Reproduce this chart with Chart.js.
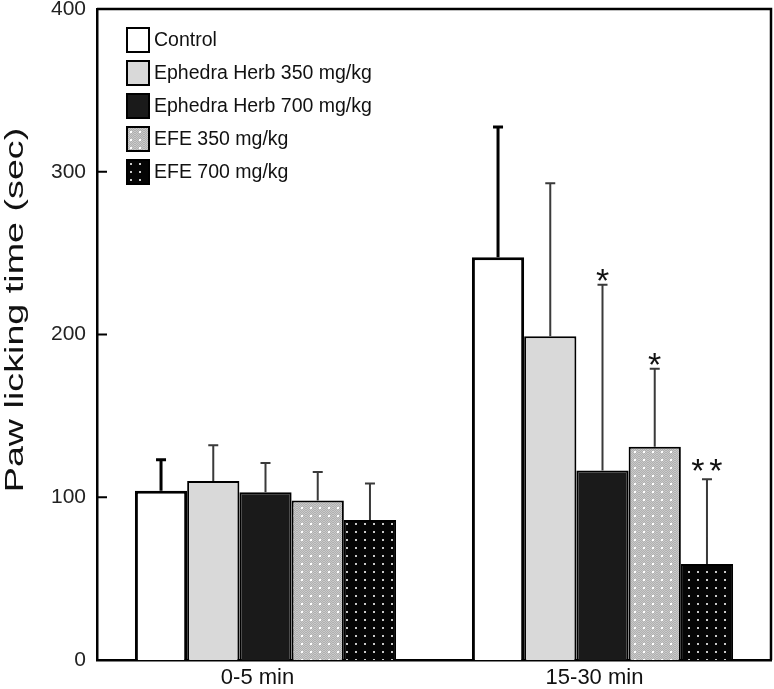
<!DOCTYPE html>
<html>
<head>
<meta charset="utf-8">
<script src="https://cdn.jsdelivr.net/npm/chart.js@4/dist/chart.umd.min.js"></script>
<style>
  body { margin: 0; background: #fff; }
  #wrap { width: 774px; height: 689px; position: relative; }
</style>
</head>
<body>
<div id="wrap"><canvas id="pawChart"></canvas></div>
<script>
// Data
const categories = ['0-5 min', '15-30 min'];
const seriesNames = ['Control', 'Ephedra Herb 350 mg/kg', 'Ephedra Herb 700 mg/kg', 'EFE 350 mg/kg', 'EFE 700 mg/kg'];
const control = [104, 247.5];
const herb350 = [110, 199];
const herb700 = [103, 116.5];
const efe350 = [98, 131];
const efe700 = [86, 59];
// SD (upper error bars)
const controlErr = [19, 80];
const herb350Err = [22, 94];
const herb700Err = [18, 114];
const efe350Err = [17.5, 48];
const efe700Err = [22.5, 52];
// significance marks per series, per category
const marks = [['', ''], ['', ''], ['', '*'], ['', '*'], ['', '**']];
const yTicks = [0, 100, 200, 300, 400];

const FONT = '"Liberation Sans", Arial, sans-serif';

// dotted fills
function dotPattern(bg, dot, checker) {
    const c = document.createElement('canvas');
    c.width = 9; c.height = 8;
    const g = c.getContext('2d');
    g.fillStyle = bg;
    g.fillRect(0, 0, 9, 8);
    if (checker) {
        g.fillStyle = checker;
        for (let y = 0; y < 8; y++) {
            for (let x = (y % 2); x < 9; x += 2) g.fillRect(x, y, 1, 1);
        }
    }
    g.fillStyle = dot;
    g.fillRect(4, 3, 2, 2);
    return g.createPattern(c, 'repeat');
}

const fills = [
    '#ffffff',
    '#d9d9d9',
    '#1a1a1a',
    dotPattern('#c9c9c9', '#ffffff', '#b0b0b0'),
    dotPattern('#050505', '#c8c8c8', null)
];
const values = [control, herb350, herb700, efe350, efe700];
const errors = [controlErr, herb350Err, herb700Err, efe350Err, efe700Err];

const decorations = {
    id: 'decorations',
    afterDatasetsDraw(chart) {
        const ctx = chart.ctx;
        const area = chart.chartArea;
        const yScale = chart.scales.y;

        // error bars + significance marks
        chart.data.datasets.forEach((ds, i) => {
            const meta = chart.getDatasetMeta(i);
            meta.data.forEach((bar, j) => {
                const top = yScale.getPixelForValue(values[i][j] + errors[i][j]);
                ctx.save();
                ctx.strokeStyle = i === 0 ? '#000' : '#3a3a3a';
                ctx.lineWidth = i === 0 ? 3 : 2;
                ctx.beginPath();
                ctx.moveTo(bar.x, bar.y);
                ctx.lineTo(bar.x, top);
                ctx.moveTo(bar.x - 5, top);
                ctx.lineTo(bar.x + 5, top);
                ctx.stroke();
                const m = marks[i][j];
                if (m) {
                    ctx.fillStyle = '#111';
                    ctx.font = '34px ' + FONT;
                    ctx.textAlign = 'center';
                    ctx.textBaseline = 'alphabetic';
                    if (m.length > 1) {
                        ctx.fillText('*', bar.x - 9, top - 17 + 20);
                        ctx.fillText('*', bar.x + 9, top - 17 + 20);
                    } else {
                        ctx.fillText(m, bar.x, top - 13 + 20);
                    }
                }
                ctx.restore();
            });
        });

        // frame on top and right, inward ticks on y
        ctx.save();
        ctx.strokeStyle = '#000';
        ctx.lineWidth = 2.5;
        ctx.beginPath();
        ctx.moveTo(area.left, area.top);
        ctx.lineTo(area.right, area.top);
        ctx.lineTo(area.right, area.bottom);
        ctx.stroke();
        ctx.lineWidth = 2;
        ctx.beginPath();
        yTicks.forEach(v => {
            const y = yScale.getPixelForValue(v);
            ctx.moveTo(area.left, y);
            ctx.lineTo(area.left + 10, y);
        });
        ctx.stroke();
        ctx.restore();

        // legend
        ctx.save();
        ctx.font = '19.5px ' + FONT;
        ctx.textBaseline = 'middle';
        ctx.textAlign = 'left';
        seriesNames.forEach((name, i) => {
            const cy = 40 + i * 33;
            ctx.fillStyle = fills[i];
            ctx.fillRect(127, cy - 12, 22, 24);
            ctx.strokeStyle = '#000';
            ctx.lineWidth = 2;
            ctx.strokeRect(127, cy - 12, 22, 24);
            ctx.fillStyle = '#111';
            ctx.fillText(name, 154, cy + 1);
        });
        ctx.restore();

        // y axis title (stretched like the original)
        ctx.save();
        ctx.translate(16, 310);
        ctx.rotate(-Math.PI / 2);
        ctx.scale(1.45, 1);
        ctx.font = '26px ' + FONT;
        ctx.fillStyle = '#111';
        ctx.textAlign = 'center';
        ctx.textBaseline = 'middle';
        ctx.fillText('Paw licking time (sec)', 0, 0);
        ctx.restore();
    }
};

const ctx = document.getElementById('pawChart').getContext('2d');
const pawChart = new Chart(ctx, {
    type: 'bar',
    data: {
        labels: categories,
        datasets: seriesNames.map((name, i) => ({
            label: name,
            data: values[i],
            backgroundColor: fills[i],
            borderColor: '#000',
            borderWidth: i === 0 ? 3 : 2,
            categoryPercentage: 0.775,
            barPercentage: 1
        }))
    },
    options: {
        responsive: true,
        maintainAspectRatio: false,
        animation: false,
        layout: { padding: { top: 9, right: 3, left: 0, bottom: 0 } },
        plugins: {
            legend: { display: false },
            tooltip: { enabled: false }
        },
        scales: {
            x: {
                grid: { display: false },
                border: { display: true, color: '#000', width: 2.5 },
                ticks: {
                    color: '#111',
                    font: { family: FONT, size: 22 },
                    padding: -3,
                    labelOffset: -8
                },
                afterFit(scale) { scale.height = 29; }
            },
            y: {
                min: 0,
                max: 400,
                grid: { display: false },
                border: { display: true, color: '#000', width: 2.5 },
                ticks: {
                    stepSize: 100,
                    color: '#222',
                    font: { family: FONT, size: 21 },
                    padding: 3
                },
                afterFit(scale) {
                    scale.width = 97;
                    scale.paddingTop = 0;
                    scale.paddingBottom = 0;
                }
            }
        }
    },
    plugins: [decorations]
});
</script>
</body>
</html>
